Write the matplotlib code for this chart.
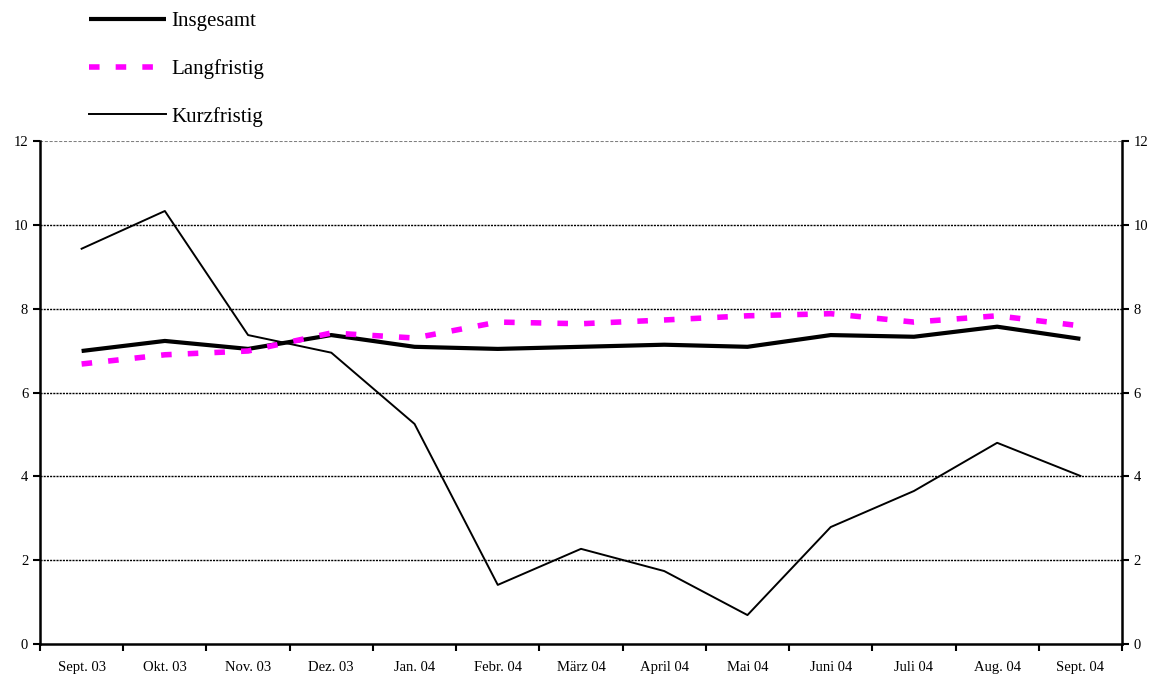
import matplotlib
matplotlib.use("Agg")
import matplotlib.pyplot as plt
from matplotlib.ticker import MultipleLocator, FixedLocator, NullFormatter

plt.rcParams['font.family'] = ['Liberation Serif', 'DejaVu Serif']

categories = ["Sept. 03", "Okt. 03", "Nov. 03", "Dez. 03", "Jan. 04", "Febr. 04",
              "März 04", "April 04", "Mai 04", "Juni 04", "Juli 04", "Aug. 04", "Sept. 04"]
insgesamt = [6.99, 7.23, 7.04, 7.37, 7.09, 7.04, 7.09, 7.14, 7.09, 7.37, 7.33, 7.57, 7.28]
langfristig = [6.68, 6.90, 6.99, 7.42, 7.30, 7.68, 7.64, 7.73, 7.83, 7.88, 7.68, 7.83, 7.59]
kurzfristig = [9.43, 10.33, 7.37, 6.95, 5.25, 1.41, 2.27, 1.74, 0.69, 2.79, 3.65, 4.80, 4.01]

W, H = 1159, 676
fig = plt.figure(figsize=(W / 100, H / 100), dpi=100)
ax = fig.add_axes([40 / W, 1 - 644 / H, (1122 - 40) / W, (644 - 141) / H])

x = list(range(len(categories)))
l1, = ax.plot(x, insgesamt, color='black', lw=3.0, solid_capstyle='butt', zorder=3)
l2, = ax.plot(x, langfristig, color='#ff00ff', lw=4.0, dashes=(1.9, 2.9), zorder=4)
l3, = ax.plot(x, kurzfristig, color='black', lw=1.4, zorder=3)

ax.set_xlim(-0.5, len(categories) - 0.5)
ax.set_ylim(0, 12)
ax.yaxis.set_major_locator(MultipleLocator(2))
ax.set_xticks(x)
ax.set_xticklabels(categories, fontsize=10.5)
ax.tick_params(axis='x', length=0, pad=12)
ax.xaxis.set_minor_locator(FixedLocator([i - 0.5 for i in range(len(categories) + 1)]))
ax.xaxis.set_minor_formatter(NullFormatter())
ax.tick_params(axis='x', which='minor', length=5, width=1.5, direction='out')
ax.tick_params(axis='y', labelsize=10.5, length=5, width=1.5, direction='out',
               left=True, right=True, labelleft=True, labelright=True)

for v in [2, 4, 6, 8, 10]:
    ax.axhline(v, color='black', lw=1, ls=(0, (1.5, 0.8)), zorder=1)
ax.axhline(12, color='#808080', lw=1.5, ls=(0, (1.5, 0.8)), zorder=1)

ax.spines['top'].set_visible(False)
for s in ['left', 'right', 'bottom']:
    ax.spines[s].set_linewidth(1.8)

leg = fig.legend([l1, l2, l3], ["Insgesamt", "Langfristig", "Kurzfristig"],
                 loc='upper left', bbox_to_anchor=(70 / W, 1 + 7 / H),
                 frameon=False, fontsize=15, handlelength=3.7, handletextpad=0.28,
                 labelspacing=1.33)

fig.savefig("out.png", dpi=100)
